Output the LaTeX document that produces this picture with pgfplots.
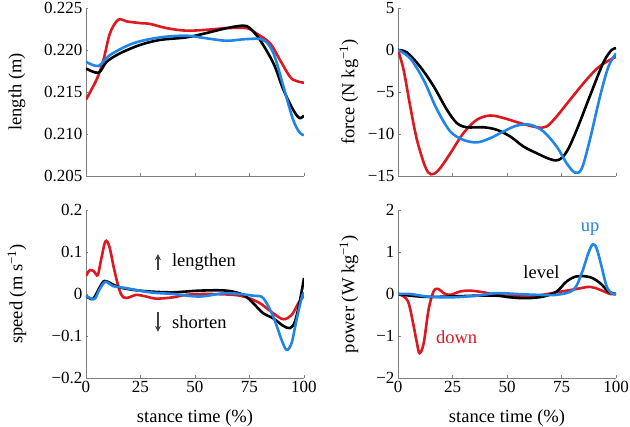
\documentclass[border=0pt]{standalone}
\usepackage{fontspec}
\setmainfont{Liberation Serif}
\usepackage{pgfplots}
\pgfplotsset{compat=1.18}
\usetikzlibrary{arrows.meta}
\definecolor{cred}{RGB}{220,24,32}
\definecolor{cblue}{RGB}{32,132,232}
\definecolor{axgray}{RGB}{125,125,125}
\newcommand{\tickf}{\fontsize{17}{20}\selectfont}
\newcommand{\labf}{\fontsize{18.5}{22}\selectfont}
\pgfplotsset{
  panel/.style={
    scale only axis, width=218pt, height=168pt,
    xmin=0, xmax=100, enlargelimits=false,
    axis lines=left,
    axis line style={-, axgray, line width=0.9pt},
    tick style={axgray, line width=0.8pt},
    major tick length=2.5pt,
    xtick={0,25,50,75,100},
    tick align=inside,
    tick label style={font=\tickf},
    label style={font=\labf},
    every node/.append style={font=\labf},
    /pgf/number format/assume math mode=true,
    every axis plot/.append style={line width=2.6pt, smooth, tension=0.55, mark=none},
    every axis x label/.style={at={(axis description cs:0.5,-0.238)}, anchor=center},
  },
  leftpanel/.style={every axis y label/.style={at={(axis description cs:-0.317,0.5)}, rotate=90, anchor=center}},
  rightpanel/.style={every axis y label/.style={at={(axis description cs:-0.225,0.5)}, rotate=90, anchor=center}},
}
\begin{document}
\begin{tikzpicture}[x=1pt,y=1pt,font=\labf]
\path[use as bounding box] (0,0) rectangle (630,427);

% top-left: length
\begin{axis}[panel, leftpanel, at={(86pt,251pt)}, anchor=south west,
  ymin=0.205, ymax=0.225, ytick={0.205,0.210,0.215,0.220,0.225},
  yticklabels={0.205,0.210,0.215,0.220,0.225},
  xticklabels={}, ylabel={length (m)}]
\addplot[cred] coordinates {(0,0.2141)(4.9,0.2165)(8,0.2188)(11,0.2220)(14.8,0.2236)(18.7,0.2234)(24.8,0.2232)(29.4,0.2231)(37,0.2226)(46,0.2223)(55,0.2224)(64.5,0.2226)(73.7,0.2226)(78,0.2220)(84.4,0.2208)(89,0.2188)(93.6,0.2168)(96.6,0.2163)(100,0.2161)};
\addplot[black] coordinates {(0,0.2178)(5.7,0.2173)(9.5,0.2186)(15.6,0.2196)(24.8,0.2206)(34,0.2212)(46,0.2215)(55,0.2220)(64.5,0.2226)(72,0.2229)(75.2,0.2226)(79.8,0.2212)(86,0.2184)(90.5,0.2153)(95,0.2129)(97.9,0.2119)(100,0.2122)};
\addplot[cblue] coordinates {(0,0.2186)(5.7,0.2181)(11,0.2194)(21.7,0.2208)(34,0.2215)(46,0.2217)(55,0.2214)(64.5,0.2211)(73.7,0.2213)(81.3,0.2212)(86,0.2196)(90.5,0.2157)(95,0.2117)(98.2,0.2101)(100,0.2099)};
\end{axis}

% top-right: force
\begin{axis}[panel, rightpanel, at={(398pt,251pt)}, anchor=south west,
  ymin=-15, ymax=5, ytick={-15,-10,-5,0,5},
  yticklabels={−15,−10,−5,0,5},
  xticklabels={}, ylabel={force (N kg\textsuperscript{−1})}]
\addplot[cred] coordinates {(0,0)(2.6,-2.4)(5.6,-6.7)(8.7,-10.7)(12.5,-13.9)(15.1,-14.8)(18.6,-14.3)(24,-12.3)(30,-9.9)(36.2,-8.3)(42.3,-7.8)(48.4,-8.1)(56,-8.7)(63.7,-9.2)(68.2,-9.1)(72.8,-7.9)(79,-5.9)(86.6,-3.5)(92.7,-1.9)(100,-0.8)};
\addplot[black] coordinates {(0,0)(4.1,-0.3)(10.2,-2.0)(16.3,-4.3)(22.4,-7.1)(27,-8.7)(31.6,-9.2)(39.2,-9.2)(45.3,-9.5)(51.5,-10.3)(57.6,-11.5)(63.7,-12.3)(69.8,-13.0)(73.6,-13.1)(77.4,-12.1)(82,-9.5)(88,-5.5)(94.2,-1.5)(98,0.0)(100,0.2)};
\addplot[cblue] coordinates {(0,0)(5.6,-1.0)(11.8,-3.6)(17.9,-7.1)(24,-9.7)(30,-10.7)(36.2,-11.0)(42.3,-10.5)(48.4,-9.7)(54.5,-9.0)(60.6,-8.9)(66.7,-9.7)(72.8,-11.5)(77.4,-13.5)(81.2,-14.6)(84.3,-14.1)(88,-10.7)(92.7,-5.5)(96.5,-2.0)(100,-0.4)};
\end{axis}

% bottom-left: speed
\begin{axis}[panel, leftpanel, at={(86pt,49pt)}, anchor=south west,
  ymin=-0.2, ymax=0.2, ytick={-0.2,-0.1,0,0.1,0.2},
  yticklabels={−0.2,−0.1,0,0.1,0.2},
  xticklabels={0,25,50,75,100},
  ylabel={speed (m s\textsuperscript{−1})}, xlabel={stance time (\%)}]
\addplot[cred] coordinates {(0,0.043)(1.8,0.057)(3.8,0.053)(5.4,0.045)(6.9,0.081)(8.9,0.125)(10.7,0.113)(13,0.057)(15.3,0.010)(17.2,-0.008)(19.9,-0.008)(23,-0.002)(27.6,-0.006)(32.2,-0.011)(39.9,-0.008)(46,-0.002)(55.2,0.0)(67.5,-0.002)(73.6,-0.008)(79.8,-0.022)(85.9,-0.046)(90.5,-0.060)(94.3,-0.050)(97.4,-0.022)(100,-0.004)};
\addplot[black] coordinates {(0,-0.004)(3.1,-0.012)(6.1,0.014)(8.4,0.031)(11.5,0.025)(15.3,0.016)(21.5,0.010)(29.1,0.006)(39.9,0.004)(52.1,0.008)(64.4,0.008)(72.1,-0.002)(76.7,-0.022)(81.3,-0.046)(85.9,-0.058)(90.5,-0.076)(93.6,-0.081)(95.9,-0.065)(98.2,-0.014)(100,0.038)};
\addplot[cblue] coordinates {(0,-0.004)(3.8,-0.012)(6.1,0.010)(8.9,0.029)(12.3,0.019)(18.4,0.014)(29.1,0.004)(39.9,0.0)(52.1,-0.006)(64.4,0.002)(76.7,-0.004)(81.3,-0.010)(85.9,-0.054)(89.7,-0.109)(92,-0.133)(94.3,-0.117)(96.6,-0.061)(98.9,-0.010)(100,0.004)};
\draw[-{Stealth[length=6pt,width=6pt]}, line width=1.3pt, black!75] (axis cs:33,0.057) -- (axis cs:33,0.095);
\draw[-{Stealth[length=6pt,width=6pt]}, line width=1.3pt, black!75] (axis cs:33,-0.043) -- (axis cs:33,-0.090);
\node[anchor=west, inner sep=0pt] at (axis cs:39.4,0.076) {lengthen};
\node[anchor=west, inner sep=0pt] at (axis cs:39.4,-0.067) {shorten};
\end{axis}

% bottom-right: power
\begin{axis}[panel, rightpanel, at={(398pt,49pt)}, anchor=south west,
  ymin=-2, ymax=2, ytick={-2,-1,0,1,2},
  yticklabels={−2,−1,0,1,2},
  xticklabels={0,25,50,75,100},
  ylabel={power (W kg\textsuperscript{−1})}, xlabel={stance time (\%)}]
\addplot[cred] coordinates {(0,0)(2.6,-0.06)(4.9,-0.22)(7.2,-0.77)(8.7,-1.17)(9.9,-1.41)(11.8,-1.17)(14,-0.38)(16.3,0.06)(18.6,0.12)(20.9,0.02)(24,-0.02)(28.5,0.06)(33.1,0.08)(39.2,0.04)(45.3,-0.02)(54.5,-0.06)(63.7,-0.04)(72.8,0.04)(82,0.12)(88.1,0.17)(92.7,0.10)(97.3,0.0)(100,0)};
\addplot[black] coordinates {(0,0)(5.6,-0.04)(13.3,-0.07)(24,-0.06)(36.2,-0.04)(45.3,-0.04)(51.5,-0.08)(59.1,-0.10)(66.7,-0.06)(72.8,0.06)(77.4,0.30)(82,0.42)(88.1,0.40)(92.7,0.26)(96.5,0.06)(100,0)};
\addplot[cblue] coordinates {(0,0)(5.6,0.0)(13.3,-0.06)(24,-0.08)(36.2,-0.04)(45.3,0.02)(54.5,0.0)(63.7,-0.02)(72.8,-0.02)(80.5,0.10)(84.3,0.50)(87.3,0.97)(89.3,1.18)(91.1,1.09)(93.4,0.65)(95.7,0.18)(98,0.02)(100,0)};
\node[text=cblue] at (axis cs:88.1,1.55) {up};
\node[text=black] at (axis cs:65.8,0.52) {level};
\node[text=cred] at (axis cs:26.9,-1.02) {down};
\end{axis}
\end{tikzpicture}
\end{document}
